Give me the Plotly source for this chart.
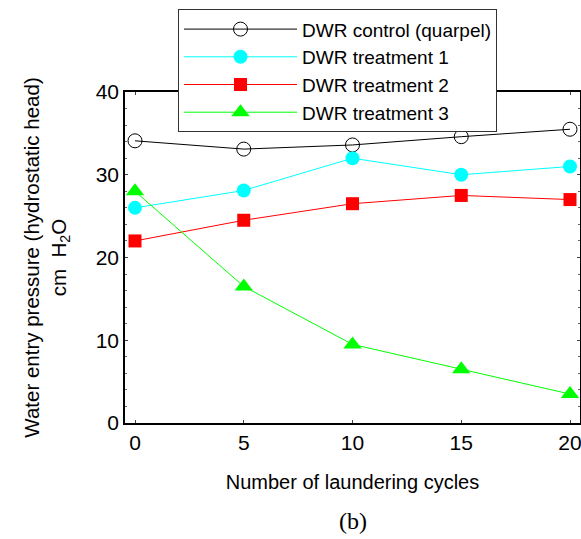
import plotly.graph_objects as go

cycles = [0, 5, 10, 15, 20]
control = [34.1, 33.1, 33.6, 34.6, 35.5]
treat1 = [26.0, 28.1, 32.0, 30.0, 31.0]
treat2 = [22.0, 24.5, 26.5, 27.5, 27.0]
treat3 = [28.0, 16.5, 9.5, 6.5, 3.5]
names = ["DWR control (quarpel)", "DWR treatment 1", "DWR treatment 2", "DWR treatment 3"]
x_ticks = [0, 5, 10, 15, 20]
y_ticks = [0, 10, 20, 30, 40]

fig = go.Figure()
fig.add_trace(go.Scatter(x=cycles, y=control, name=names[0], mode="lines+markers",
                         line=dict(color="black", width=1),
                         marker=dict(symbol="circle-open", size=14, color="black", line=dict(width=1))))
fig.add_trace(go.Scatter(x=cycles, y=treat1, name=names[1], mode="lines+markers",
                         line=dict(color="#00FFFF", width=1),
                         marker=dict(symbol="circle", size=14, color="#00FFFF")))
fig.add_trace(go.Scatter(x=cycles, y=treat2, name=names[2], mode="lines+markers",
                         line=dict(color="#FF0000", width=1),
                         marker=dict(symbol="square", size=13, color="#FF0000")))
fig.add_trace(go.Scatter(x=cycles, y=treat3, name=names[3], mode="lines+markers",
                         line=dict(color="#00FF00", width=1),
                         marker=dict(symbol="triangle-up", size=16, color="#00FF00")))

fig.update_layout(
    width=581, height=539,
    margin=dict(l=125, r=1, t=92, b=116, autoexpand=False),
    paper_bgcolor="white", plot_bgcolor="white",
    font=dict(family="Liberation Sans, Arial", size=20, color="black"),
    showlegend=True,
    legend=dict(x=0.1165, y=1.25, xanchor="left", yanchor="top",
                bordercolor="#333", borderwidth=1, bgcolor="white",
                font=dict(size=19), itemwidth=113, tracegroupgap=0),
    xaxis=dict(range=[-0.46, 20.46], tickvals=x_ticks, ticks="inside", ticklen=3,
               showline=True, mirror="ticks", linecolor="black", linewidth=1.5,
               showgrid=False, zeroline=False, tickfont=dict(size=21),
               ticklabeloverflow="allow",
               title=dict(text="Number of laundering cycles", font=dict(size=20), standoff=22)),
    yaxis=dict(range=[0, 40], tickvals=y_ticks, ticks="inside", ticklen=3,
               showline=True, mirror="ticks", linecolor="black", linewidth=1.5,
               showgrid=False, zeroline=False, tickfont=dict(size=21),
               minor=dict(dtick=2, ticks="inside", ticklen=2, tickcolor="#666"),
               title=dict(text="Water entry pressure (hydrostatic head)<br>cm  H<sub>2</sub>O",
                          font=dict(size=20.5), standoff=24)),
)
fig.add_annotation(text="(b)", x=0.5, y=-0.296, xref="paper", yref="paper",
                   xanchor="center", yanchor="middle", showarrow=False,
                   font=dict(family="Liberation Serif, Times New Roman", size=24))
fig.write_html("out.html", config={"displayModeBar": False},
               post_script="document.body.style.margin='0px';"
                           "document.documentElement.style.overflow='hidden';")
